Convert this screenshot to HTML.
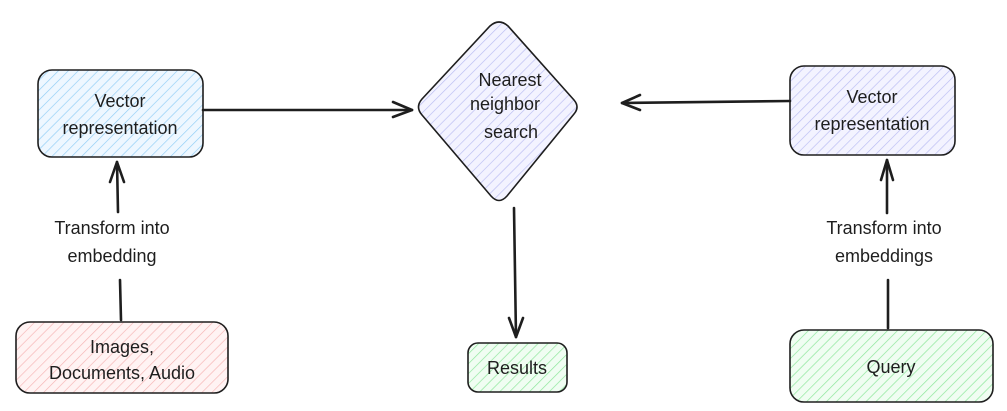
<!DOCTYPE html>
<html><head><meta charset="utf-8">
<style>
html,body{margin:0;padding:0;background:#fff;}
svg{display:block;}
text{font-family:"Liberation Sans",sans-serif;font-size:18px;fill:#1e1e1e;text-anchor:middle;}
</style></head>
<body>
<svg width="1007" height="411" viewBox="0 0 1007 411" xmlns="http://www.w3.org/2000/svg">
<defs>
<pattern id="hb" width="7" height="7" patternUnits="userSpaceOnUse" patternTransform="rotate(45)"><rect width="7" height="7" fill="#eef7ff"/><line x1="0" y1="0" x2="0" y2="7" stroke="#8fcdf5" stroke-width="1.3"/></pattern>
<pattern id="hr" width="7" height="7" patternUnits="userSpaceOnUse" patternTransform="rotate(45)"><rect width="7" height="7" fill="#fff3f3"/><line x1="0" y1="0" x2="0" y2="7" stroke="#f5b3b3" stroke-width="1.3"/></pattern>
<pattern id="hp" width="7" height="7" patternUnits="userSpaceOnUse" patternTransform="rotate(45)"><rect width="7" height="7" fill="#f3f3ff"/><line x1="0" y1="0" x2="0" y2="7" stroke="#b9bcf2" stroke-width="1.3"/></pattern>
<pattern id="hg" width="7" height="7" patternUnits="userSpaceOnUse" patternTransform="rotate(45)"><rect width="7" height="7" fill="#f0fdf2"/><line x1="0" y1="0" x2="0" y2="7" stroke="#8ee79c" stroke-width="1.4"/></pattern>
</defs>
<g stroke="#1e1e1e" stroke-width="1.6">
<rect x="38" y="70" width="165" height="87" rx="14" fill="url(#hb)"/>
<rect x="16" y="322" width="212" height="71" rx="14" fill="url(#hr)"/>
<rect x="790" y="66" width="165" height="89" rx="14" fill="url(#hp)"/>
<rect x="790" y="330" width="203" height="72" rx="14" fill="url(#hg)"/>
<rect x="468" y="343" width="99" height="49" rx="10" fill="url(#hg)"/>
<path d="M490 26 Q499 18 508 26 L574 100 Q580 107 574 114 L507 196 Q499 205 491 196 L422 115 Q415 107 422 99 Z" fill="url(#hp)"/>
</g>
<g stroke="#1e1e1e" stroke-width="2.6" fill="none" stroke-linecap="round" stroke-linejoin="round">
<path d="M203 110 L412 110"/><path d="M393 102 L412 110 L393 117"/>
<path d="M790 101 L622 103"/><path d="M640 95 L622 103 L640 110"/>
<path d="M514 208 L516 337"/><path d="M509 318 L516 337 L523 318"/>
<path d="M121 320 L120 280"/><path d="M118 212 L117 162"/><path d="M110 182 L117 162 L124 182"/>
<path d="M888 328 L888 280"/><path d="M887 213 L887 160"/><path d="M881 180 L887 160 L893 180"/>
</g>
<text x="120" y="107">Vector</text>
<text x="120" y="134">representation</text>
<text x="122" y="353">Images,</text>
<text x="122" y="379">Documents, Audio</text>
<text x="872" y="103">Vector</text>
<text x="872" y="130">representation</text>
<text x="891" y="373">Query</text>
<text x="517" y="374">Results</text>
<text x="510" y="86">Nearest</text>
<text x="505" y="110">neighbor</text>
<text x="511" y="138">search</text>
<text x="112" y="234">Transform into</text>
<text x="112" y="262">embedding</text>
<text x="884" y="234">Transform into</text>
<text x="884" y="262">embeddings</text>
</svg>
</body></html>
